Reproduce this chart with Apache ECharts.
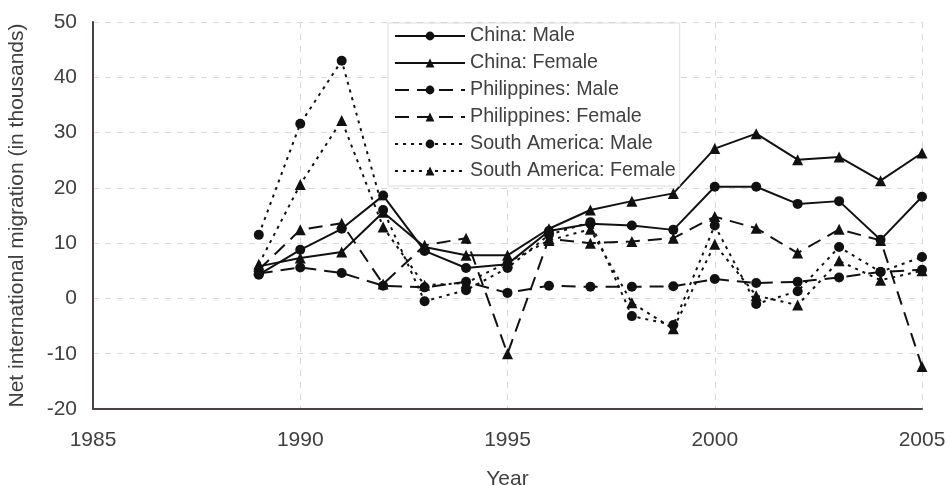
<!DOCTYPE html>
<html>
<head>
<meta charset="utf-8">
<script src="https://cdn.jsdelivr.net/npm/echarts@6/dist/echarts.min.js"></script>
<style>
  html, body { margin: 0; padding: 0; background: #fff; }
  #chart { width: 949px; height: 485px; }
</style>
</head>
<body>
<div id="chart"></div>
<script>
// Net international migration by origin and sex, in thousands
const years = [1989, 1990, 1991, 1992, 1993, 1994, 1995, 1996, 1997, 1998, 1999, 2000, 2001, 2002, 2003, 2004, 2005];
const chinaMale = [4.3, 8.8, 12.6, 18.6, 8.6, 5.5, 6.2, 12.2, 13.5, 13.2, 12.4, 20.2, 20.2, 17.1, 17.6, 10.6, 18.4];
const chinaFemale = [5.8, 7.3, 8.4, 15.6, 9.3, 7.8, 7.8, 12.6, 16.0, 17.6, 19.0, 27.1, 29.8, 25.1, 25.6, 21.3, 26.3];
const philMale = [4.5, 5.6, 4.6, 2.3, 2.0, 3.0, 1.0, 2.3, 2.1, 2.1, 2.2, 3.5, 2.8, 3.0, 3.8, 4.8, 5.2];
const philFemale = [5.2, 12.4, 13.6, 2.6, 9.6, 10.9, -10.0, 10.8, 10.0, 10.3, 10.9, 14.8, 12.7, 8.2, 12.5, 10.5, -12.3];
const saMale = [11.5, 31.6, 43.0, 16.0, -0.5, 1.5, 5.5, 11.5, 13.8, -3.2, -4.8, 13.2, -1.0, 1.3, 9.3, 4.8, 7.5];
const saFemale = [6.2, 20.6, 32.2, 12.9, 2.4, 2.8, 6.5, 10.5, 12.5, -0.8, -5.5, 9.8, 0.5, -1.2, 6.8, 3.3, 5.0];

const seriesNames = ['China: Male', 'China: Female', 'Philippines: Male', 'Philippines: Female', 'South America: Male', 'South America: Female'];
const seriesValues = [chinaMale, chinaFemale, philMale, philFemale, saMale, saFemale];
const seriesSymbols = ['circle', 'triangle', 'circle', 'triangle', 'circle', 'triangle'];
const seriesDash = ['solid', 'solid', [14, 8], [14, 8], [3, 5], [3, 5]];

const ink = '#111';
const textColor = '#404040';
const fontFamily = '"Liberation Sans", Arial, sans-serif';

const chart = echarts.init(document.getElementById('chart'), null, { renderer: 'canvas' });

const series = seriesNames.map((name, i) => ({
  name: name,
  type: 'line',
  data: years.map((y, j) => [y, seriesValues[i][j]]),
  symbol: seriesSymbols[i],
  symbolSize: seriesSymbols[i] === 'triangle' ? 11 : 10,
  showAllSymbol: true,
  lineStyle: { color: ink, width: 2, type: seriesDash[i] },
  itemStyle: { color: ink, borderWidth: 0 },
  emphasis: { disabled: true },
  animation: false,
  z: 2 + i
}));

chart.setOption({
  animation: false,
  backgroundColor: '#fff',
  textStyle: { fontFamily: fontFamily },
  grid: { left: 93, right: 27, top: 22, bottom: 76, containLabel: false, outerBoundsMode: 'none' },
  legend: {
    orient: 'vertical',
    left: 388,
    top: 23,
    padding: [3, 4, 5, 6],
    backgroundColor: '#fff',
    borderColor: '#dcdcdc',
    borderWidth: 1,
    itemWidth: 70,
    itemHeight: 11,
    itemGap: 7,
    data: seriesNames,
    textStyle: { color: textColor, fontSize: 19.7, lineHeight: 20, fontFamily: fontFamily }
  },
  xAxis: {
    type: 'value',
    min: 1985,
    max: 2005,
    interval: 5,
    name: 'Year',
    nameLocation: 'middle',
    nameGap: 60,
    nameTextStyle: { color: textColor, fontSize: 21, fontFamily: fontFamily },
    axisLine: { show: true, onZero: false, lineStyle: { color: '#4a4242', width: 2 } },
    axisTick: { show: false },
    axisLabel: { color: textColor, fontSize: 21, margin: 21, fontFamily: fontFamily, formatter: (v) => String(v) },
    splitLine: { show: true, lineStyle: { color: '#d9d9d9', width: 1, type: [6, 6] } }
  },
  yAxis: {
    type: 'value',
    min: -20,
    max: 50,
    interval: 10,
    name: 'Net international migration (in thousands)',
    nameLocation: 'middle',
    nameGap: 65,
    nameTextStyle: { color: textColor, fontSize: 21, fontFamily: fontFamily },
    axisLine: { show: true, onZero: false, lineStyle: { color: '#4a4242', width: 2 } },
    axisTick: { show: false },
    axisLabel: { color: textColor, fontSize: 21, margin: 16, fontFamily: fontFamily },
    splitLine: { show: true, lineStyle: { color: '#d9d9d9', width: 1, type: [6, 6] } }
  },
  series: series
});
</script>
</body>
</html>
